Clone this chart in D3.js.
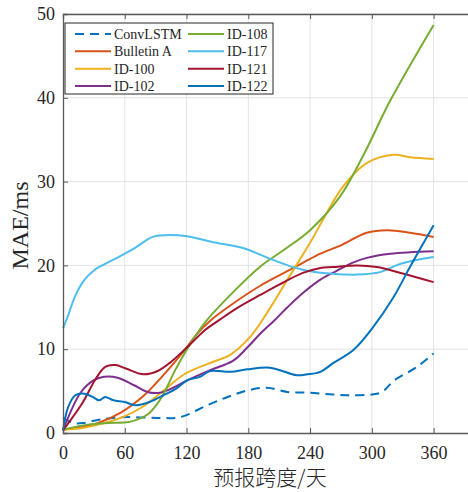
<!DOCTYPE html>
<html>
<head>
<meta charset="utf-8">
<script src="https://cdn.jsdelivr.net/npm/d3@7"></script>
<style>
  html, body { margin: 0; padding: 0; background: #fff; }
  svg { display: block; }
  text { font-family: "Liberation Serif", "Times New Roman", serif; fill: #262626; }
</style>
</head>
<body>
<svg id="chart" width="468" height="492"></svg>
<script>
// series names (legend order) and colours
const names = ['ConvLSTM', 'Bulletin A', 'ID-100', 'ID-102', 'ID-108', 'ID-117', 'ID-121', 'ID-122'];
const colors = ['#0072BD', '#D95319', '#EDB120', '#7E2F8E', '#77AC30', '#4DBEEE', '#A2142F', '#0072BD'];

const xTicks = [0, 60, 120, 180, 240, 300, 360];
const yTicks = [0, 10, 20, 30, 40, 50];

// [day, MAE]
const convLSTM = [[0, 1.8], [10, 1.2], [20, 1.2], [36, 1.6], [62, 1.9], [92, 1.8], [114, 1.9], [140, 3.3], [160, 4.3], [180, 5.1], [198, 5.4], [218, 4.9], [240, 4.8], [262, 4.6], [280, 4.5], [300, 4.6], [310, 4.9], [321, 6.2], [344, 7.9], [360, 9.5]];
const bulletinA = [[0, 0.4], [17, 0.7], [34, 1.2], [57, 2.5], [77, 4.3], [96, 6.7], [117, 9.7], [130, 11.8], [143, 13.4], [167, 15.6], [192, 17.6], [210, 18.8], [233, 20.3], [250, 21.4], [270, 22.4], [295, 23.9], [315, 24.2], [337, 23.9], [360, 23.4]];
const id100 = [[0, 0.4], [19, 0.6], [34, 1.0], [58, 1.9], [77, 3.1], [96, 4.9], [119, 7.1], [146, 8.5], [162, 9.3], [182, 11.5], [198, 14.3], [218, 18.3], [240, 22.7], [272, 29.4], [295, 32.2], [321, 33.2], [337, 32.9], [360, 32.7]];
const id102 = [[0, 0.3], [17, 4.8], [30, 6.3], [40, 6.7], [53, 6.6], [69, 5.7], [82, 4.9], [94, 4.8], [107, 5.4], [121, 6.3], [143, 7.5], [165, 8.6], [179, 10.2], [192, 11.9], [205, 13.4], [218, 15.0], [233, 16.7], [250, 18.3], [265, 19.3], [281, 20.3], [295, 20.9], [318, 21.4], [360, 21.7]];
const id108 = [[0, 0.4], [24, 1.0], [44, 1.2], [64, 1.3], [76, 1.8], [84, 2.4], [96, 4.3], [109, 7.5], [122, 10.3], [138, 13.2], [166, 16.9], [192, 19.9], [214, 21.8], [240, 24.2], [269, 28.2], [292, 33.2], [318, 39.7], [360, 48.7]];
const id117 = [[0, 12.5], [4, 13.7], [12, 16.4], [21, 18.3], [30, 19.4], [38, 20.0], [57, 21.2], [70, 22.1], [87, 23.4], [99, 23.6], [119, 23.5], [145, 22.8], [174, 22.1], [199, 20.9], [226, 19.7], [240, 19.3], [262, 19.0], [286, 18.9], [308, 19.2], [328, 20.2], [360, 21.0]];
const id121 = [[0, 0.3], [19, 3.6], [31, 6.3], [41, 7.9], [51, 8.1], [61, 7.7], [78, 7.0], [92, 7.4], [104, 8.4], [116, 9.7], [127, 11.0], [138, 12.3], [152, 13.5], [169, 14.9], [192, 16.5], [210, 17.7], [233, 19.1], [250, 19.7], [262, 19.8], [286, 20.0], [305, 19.8], [328, 19.1], [360, 18.0]];
const id122 = [[0, 0.3], [5, 3.1], [12, 4.5], [19, 4.7], [29, 4.3], [35, 3.9], [41, 4.3], [49, 3.9], [60, 3.7], [70, 3.3], [84, 3.7], [99, 4.6], [110, 5.3], [121, 6.3], [133, 6.7], [143, 7.4], [163, 7.3], [179, 7.6], [201, 7.8], [227, 6.9], [237, 7.0], [250, 7.3], [262, 8.3], [282, 9.9], [301, 12.6], [321, 16.2], [337, 19.8], [360, 24.8]];

const seriesData = [convLSTM, bulletinA, id100, id102, id108, id117, id121, id122];
const dashed = [true, false, false, false, false, false, false, false];

const svg = d3.select('#chart');
const margin = { left: 63, top: 14, bottom: 433 };

const x = d3.scaleLinear().domain([0, 400]).range([margin.left, margin.left + 400 * 1.0295]);
const y = d3.scaleLinear().domain([0, 50]).range([margin.bottom, margin.top]);
const right = x(400);

// grid
const grid = svg.append('g');
grid.selectAll('.gx').data(xTicks.slice(1)).enter().append('line')
  .attr('x1', d => x(d)).attr('x2', d => x(d))
  .attr('y1', y(0)).attr('y2', y(50))
  .attr('stroke', '#e3e3e3').attr('stroke-width', 1);
grid.selectAll('.gy').data(yTicks.slice(1)).enter().append('line')
  .attr('x1', x(0)).attr('x2', right)
  .attr('y1', d => y(d)).attr('y2', d => y(d))
  .attr('stroke', '#e3e3e3').attr('stroke-width', 1);

// lines
const line = d3.line()
  .x(d => x(d[0]))
  .y(d => y(d[1]))
  .curve(d3.curveCatmullRom.alpha(0.5));

svg.append('g').selectAll('path').data(seriesData).enter().append('path')
  .attr('d', line)
  .attr('fill', 'none')
  .attr('stroke', (d, i) => colors[i])
  .attr('stroke-width', 2)
  .attr('stroke-dasharray', (d, i) => (dashed[i] ? '9,6' : null));

// axes (box, ticks inward)
const axisColor = '#5a5a5a';
const xAxis = svg.append('g').attr('transform', `translate(0,${y(0)})`)
  .call(d3.axisBottom(x).tickValues(xTicks).tickSize(-5).tickPadding(13));
const xTop = svg.append('g').attr('transform', `translate(0,${y(50)})`)
  .call(d3.axisTop(x).tickValues(xTicks).tickSize(-5).tickFormat(''));
const yAxis = svg.append('g').attr('transform', `translate(${x(0)},0)`)
  .call(d3.axisLeft(y).tickValues(yTicks).tickSize(-5).tickPadding(8));

[xAxis, xTop, yAxis].forEach((g) => {
  g.select('.domain').attr('stroke', axisColor).attr('stroke-width', 1.3);
  g.selectAll('.tick line').attr('stroke', axisColor);
  g.selectAll('.tick text')
    .style('font-family', '"Liberation Serif", serif')
    .style('font-size', '18px')
    .attr('fill', '#262626');
});

// axis titles
svg.append('text')
  .attr('transform', `translate(28,${(y(0) + y(50)) / 2 + 2}) rotate(-90)`)
  .attr('text-anchor', 'middle')
  .style('font-size', '24px')
  .text('MAE/ms');

svg.append('text')
  .attr('x', 270).attr('y', 485)
  .attr('text-anchor', 'middle')
  .style('font-family', '"Noto Sans CJK SC", sans-serif')
  .style('font-size', '21px')
  .style('font-weight', 300)
  .text('预报跨度/天');

// legend
const legend = svg.append('g');
legend.append('rect')
  .attr('x', 65).attr('y', 23).attr('width', 208).attr('height', 71)
  .attr('fill', '#fff').attr('stroke', '#262626').attr('stroke-width', 1);

const rowY = d3.scalePoint().domain([0, 1, 2, 3]).range([34, 86]);
const colX = [75, 188];
const items = legend.selectAll('.item').data(names).enter().append('g')
  .attr('transform', (d, i) => `translate(${colX[Math.floor(i / 4)]},${rowY(i % 4)})`);
items.append('line')
  .attr('x1', 0).attr('x2', 36)
  .attr('stroke', (d, i) => colors[i])
  .attr('stroke-width', 2)
  .attr('stroke-dasharray', (d, i) => (dashed[i] ? '9,6' : null));
items.append('text')
  .attr('x', 39).attr('y', 5)
  .style('font-size', '14px')
  .text(d => d);
</script>
</body>
</html>
